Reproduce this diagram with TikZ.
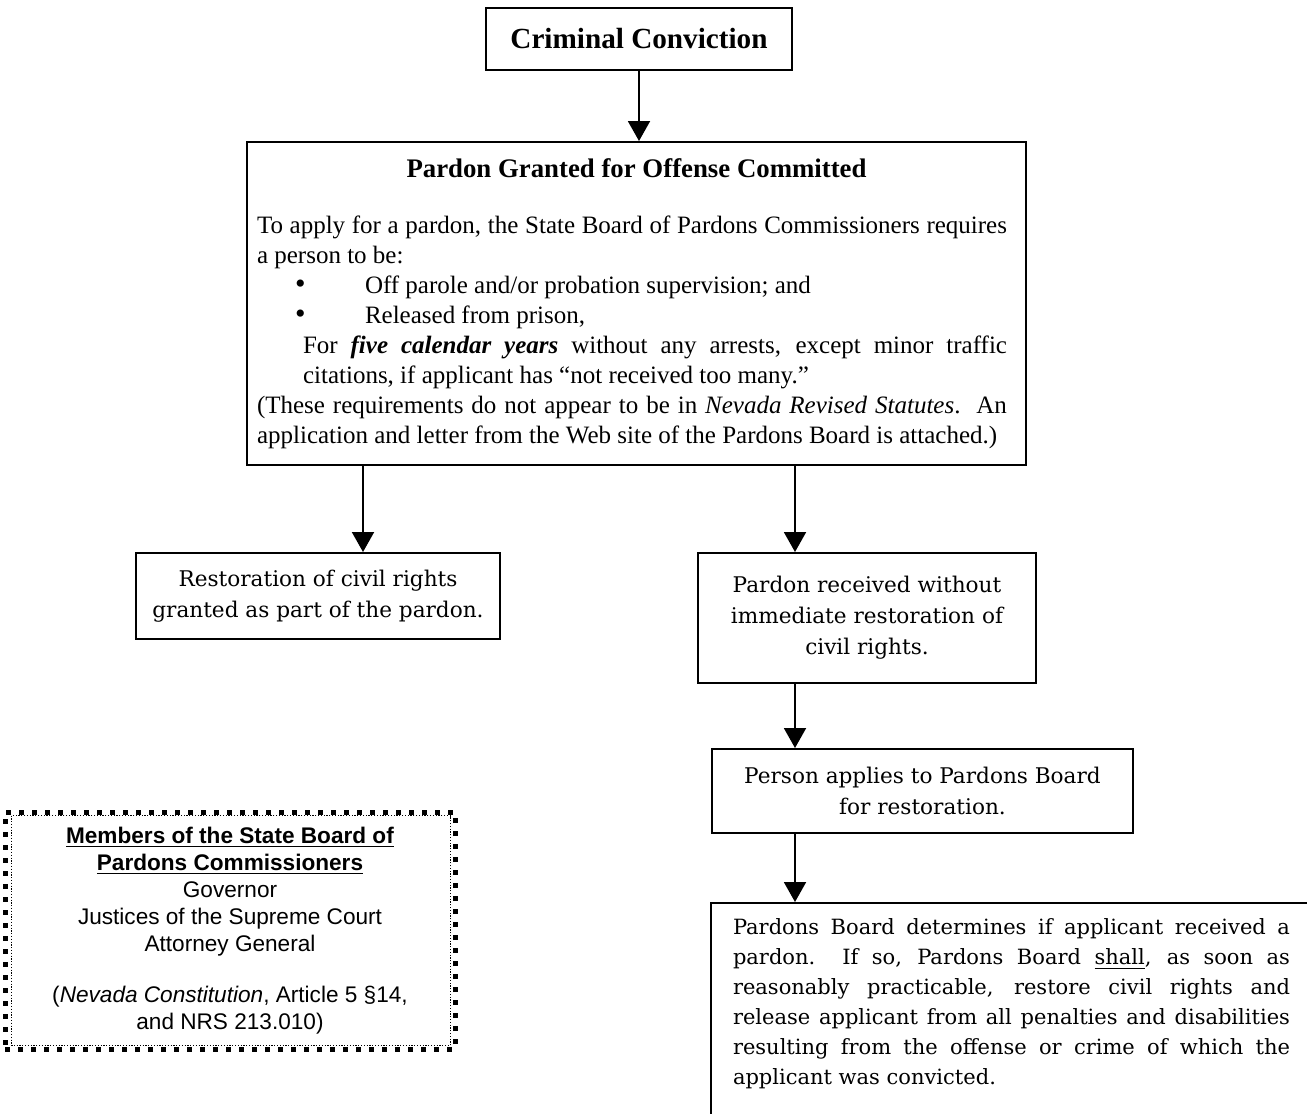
\documentclass[tikz,border=0pt]{standalone}
\usepackage{fontspec}
\setmainfont{Liberation Serif}
\newfontfamily\schoolfont{DejaVu Serif}
\newfontfamily\arialfont{Liberation Sans}
\usetikzlibrary{arrows.meta, positioning}

\begin{document}
\begin{tikzpicture}[x=0.5pt, y=-0.5pt,
  block/.style={rectangle, draw, line width=1pt, inner sep=0pt, align=center},
  century/.style={font=\schoolfont\fontsize{10.8}{15.5}\selectfont},
  memberbox/.style={rectangle, draw, line width=2.5pt, dash pattern=on 2.5pt off 4pt, inner sep=0pt,
    minimum width=225pt, minimum height=118.5pt, align=center, font=\arialfont\fontsize{11.3}{13.5}\selectfont},
  arrow/.style={-{Triangle[width=11pt, length=10pt]}, line width=1pt}]

\useasboundingbox (0,0) rectangle (1307,1114);

\node[block, minimum width=153pt, minimum height=31pt, font=\bfseries\fontsize{14.6}{17}\selectfont] (conviction) at (639,39) {Criminal Conviction};

\node[block, below=35pt of conviction, xshift=-1.25pt, minimum width=389.5pt, minimum height=161.5pt,
  text width=389.5pt, align=justify, font=\fontsize{12.5}{15}\selectfont] (pardon) {%
  \leftskip=5pt\rightskip=9.5pt
  {\centering\bfseries\fontsize{13.4}{16}\selectfont Pardon Granted for Offense Committed\par}
  \vspace{13pt}
  To apply for a pardon, the State Board of Pardons Commissioners requires\linebreak a person to be:\par
  \hspace*{19pt}\makebox[35pt][l]{\fontsize{15}{15}\selectfont\textbullet}Off parole and/or probation supervision; and\par
  \hspace*{19pt}\makebox[35pt][l]{\fontsize{15}{15}\selectfont\textbullet}Released from prison,\par
  {\leftskip=28pt For \textbf{\textit{five calendar years}} without any arrests, except minor traffic\linebreak citations, if applicant has “not received too many.”\par}
  (These requirements do not appear to be in \textit{Nevada Revised Statutes}.\ \ An\linebreak application and letter from the Web site of the Pardons Board is attached.)\par};

\node[block, century, below=43pt of pardon.south west, anchor=north west, xshift=-55.5pt,
  minimum width=182pt, minimum height=43pt] (restore) {Restoration of civil rights\\granted as part of the pardon.};

\node[block, century, right=98pt of restore.north east, anchor=north west,
  minimum width=169pt, minimum height=65pt] (norights) {Pardon received without\\immediate restoration of\\civil rights.};

\node[block, century, below=32pt of norights.south west, anchor=north west, xshift=7pt,
  minimum width=210.5pt, minimum height=42pt] (apply) {Person applies to Pardons Board\\for restoration.};

\node[block, below=34pt of apply.south west, anchor=north west, xshift=-0.5pt, inner xsep=11pt, inner ysep=8pt,
  text width=278.5pt, align=justify, font=\schoolfont\fontsize{10.5}{15}\selectfont] (determines) {%
  Pardons Board determines if applicant received a\linebreak
  pardon.\ \ If so, Pardons Board \underline{shall}, as soon as\linebreak
  reasonably practicable, restore civil rights and\linebreak
  release applicant from all penalties and disabilities\linebreak
  resulting from the offense or crime of which the\linebreak
  applicant was convicted.\par\vspace*{40pt}\mbox{}};

% members box with its inner dotted frame
\node[memberbox] (members) at (230,930.5) {%
  \underline{\textbf{Members of the State Board of}}\\
  \underline{\textbf{Pardons Commissioners}}\\
  Governor\\
  Justices of the Supreme Court\\
  Attorney General\\[12pt]
  (\textit{Nevada Constitution}, Article 5 §14,\\
  and NRS 213.010)};
\draw[line width=0.6pt, dash pattern=on 0.6pt off 0.8pt]
  ([shift={(4.5pt,-3pt)}]members.north west) rectangle ([shift={(-3.5pt,3pt)}]members.south east);

\coordinate (lcol) at ([xshift=58.5pt]pardon.south west);
\coordinate (rcol) at ([xshift=274.5pt]pardon.south west);

\draw[arrow] (conviction.south) -- (conviction.south |- pardon.north);
\draw[arrow] (lcol) -- (lcol |- restore.north);
\draw[arrow] (rcol) -- (rcol |- norights.north);
\draw[arrow] (norights.south -| rcol) -- (apply.north -| rcol);
\draw[arrow] (apply.south -| rcol) -- (determines.north -| rcol);
\end{tikzpicture}
\end{document}
